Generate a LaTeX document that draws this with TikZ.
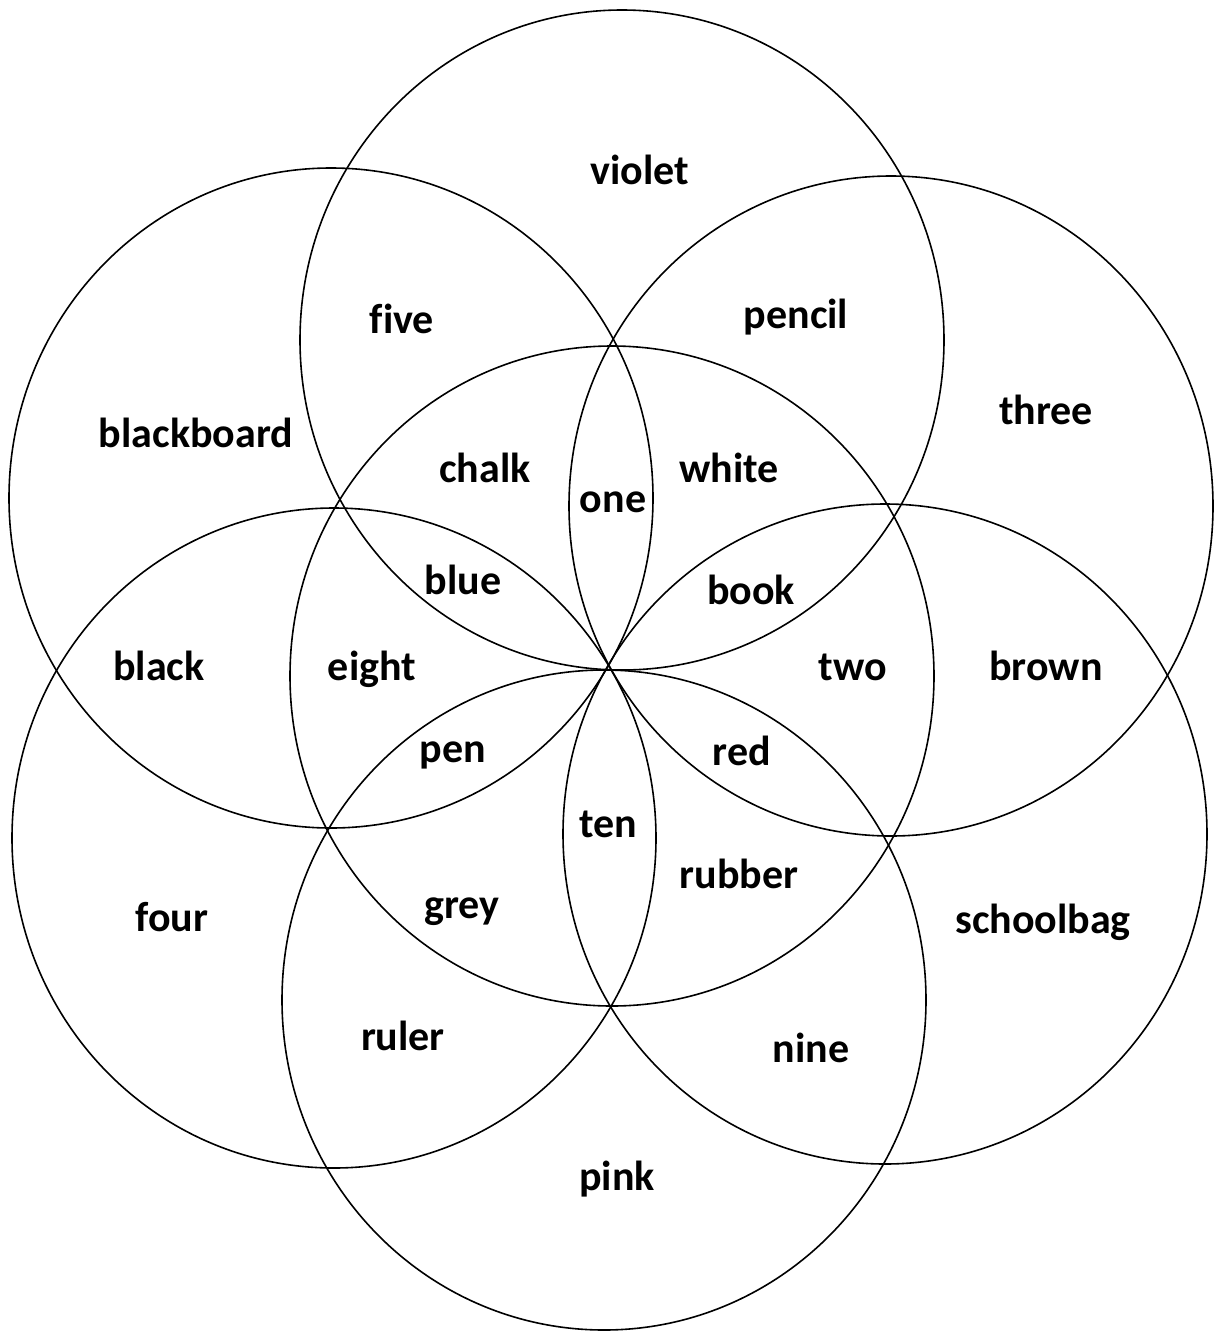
\documentclass[tikz,border=0pt]{standalone}
\usepackage{fontspec}
\setmainfont{Carlito}[Ligatures=NoCommon]
\begin{document}
\begin{tikzpicture}[x=1pt,y=-1pt,
  ring/.style={draw=black,line width=1.6pt},
  lbl/.style={anchor=base,inner sep=0pt,font=\fontsize{42}{42}\selectfont\bfseries}]
\useasboundingbox[fill=white] (0,0) rectangle (1215,1331);
% circle centres
\coordinate (cC)  at (612,676);
\coordinate (cT)  at (622,340);
\coordinate (cUR) at (891,506);
\coordinate (cLR) at (885,834);
\coordinate (cB)  at (604,1000);
\coordinate (cLL) at (334,838);
\coordinate (cUL) at (331,498);
\foreach \c in {cC,cT,cUR,cLR,cB,cLL,cUL}
  \draw[ring] (\c) ellipse [x radius=322pt, y radius=330pt];
% labels
\node[lbl] (violet) at (640,184) {violet};
\node[lbl] (five) at (402,333) {five};
\node[lbl] (pencil) at (796,328) {pencil};
\node[lbl] (three) at (1046,424) {three};
\node[lbl] (blackboard) at (196,447) {blackboard};
\node[lbl] (chalk) at (485,482) {chalk};
\node[lbl] (one) at (613,512) {one};
\node[lbl] (white) at (729,482) {white};
\node[lbl] (blue) at (463,594) {blue};
\node[lbl] (book) at (751,604) {book};
\node[lbl] (black) at (159,680) {black};
\node[lbl] (eight) at (372,680) {eight};
\node[lbl] (two) at (853,680) {two};
\node[lbl] (brown) at (1046,680) {brown};
\node[lbl] (pen) at (453,762) {pen};
\node[lbl] (red) at (742,765) {red};
\node[lbl] (ten) at (608,837) {ten};
\node[lbl] (rubber) at (739,888) {rubber};
\node[lbl] (grey) at (462,918) {grey};
\node[lbl] (four) at (172,931) {four};
\node[lbl] (schoolbag) at (1043,933) {schoolbag};
\node[lbl] (ruler) at (403,1050) {ruler};
\node[lbl] (nine) at (811,1062) {nine};
\node[lbl] (pink) at (617,1190) {pink};
\end{tikzpicture}
\end{document}
